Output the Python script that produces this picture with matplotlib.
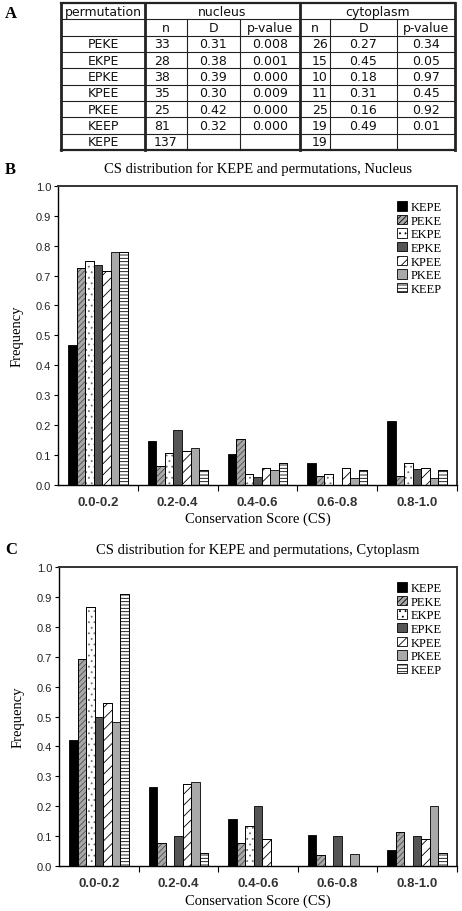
import numpy as np
import matplotlib
matplotlib.use("Agg")
import matplotlib.pyplot as plt
from matplotlib.patches import Patch

# data
perms = ["KEPE", "PEKE", "EKPE", "EPKE", "KPEE", "PKEE", "KEEP"]
bins = ["0.0-0.2", "0.2-0.4", "0.4-0.6", "0.6-0.8", "0.8-1.0"]

nucleus = {
  "KEPE": [0.467, 0.146, 0.102, 0.073, 0.212],
  "PEKE": [0.727, 0.061, 0.152, 0.030, 0.030],
  "EKPE": [0.750, 0.107, 0.036, 0.036, 0.071],
  "EPKE": [0.737, 0.184, 0.026, 0.000, 0.053],
  "KPEE": [0.714, 0.114, 0.057, 0.057, 0.057],
  "PKEE": [0.780, 0.122, 0.049, 0.024, 0.024],
  "KEEP": [0.778, 0.049, 0.074, 0.049, 0.049],
}
cytoplasm = {
  "KEPE": [0.421, 0.263, 0.158, 0.105, 0.053],
  "PEKE": [0.692, 0.077, 0.077, 0.038, 0.115],
  "EKPE": [0.867, 0.000, 0.133, 0.000, 0.000],
  "EPKE": [0.500, 0.100, 0.200, 0.100, 0.100],
  "KPEE": [0.545, 0.273, 0.091, 0.000, 0.091],
  "PKEE": [0.480, 0.280, 0.000, 0.040, 0.200],
  "KEEP": [0.909, 0.045, 0.000, 0.000, 0.045],
}

# table (panel A)
tbl_perm = ["PEKE", "EKPE", "EPKE", "KPEE", "PKEE", "KEEP", "KEPE"]
tbl_nuc_n = ["33", "28", "38", "35", "25", "81", "137"]
tbl_nuc_d = ["0.31", "0.38", "0.39", "0.30", "0.42", "0.32", ""]
tbl_nuc_p = ["0.008", "0.001", "0.000", "0.009", "0.000", "0.000", ""]
tbl_cyt_n = ["26", "15", "10", "11", "25", "19", "19"]
tbl_cyt_d = ["0.27", "0.45", "0.18", "0.31", "0.16", "0.49", ""]
tbl_cyt_p = ["0.34", "0.05", "0.97", "0.45", "0.92", "0.01", ""]

# bar styles: face, hatch, hatch colour
styles = {
  "KEPE": ("black", None, None),
  "PEKE": ("#a8a8a8", "//////", "#505050"),
  "EKPE": ("white", "...", "#707070"),
  "EPKE": ("#555555", None, None),
  "KPEE": ("white", "///", "black"),
  "PKEE": ("#a9a9a9", None, None),
  "KEEP": ("white", "-----", "black"),
}

plt.rcParams["hatch.linewidth"] = 0.6
SERIF = ["Liberation Serif", "DejaVu Serif"]
SANS = ["Liberation Sans", "DejaVu Sans"]

fig = plt.figure(figsize=(4.62, 9.12), dpi=100)


def draw_panel(ax, data, title):
  xs = np.arange(len(bins))
  w = 0.107
  for i, p in enumerate(perms):
    face, hatch, hcol = styles[p]
    off = (i - 3) * w
    ax.bar(xs + off, data[p], width=w, color=face, edgecolor="black", linewidth=0.6, zorder=2)
    if hatch:
      ax.bar(xs + off, data[p], width=w, fill=False, hatch=hatch, edgecolor=hcol, linewidth=0, zorder=3)
      ax.bar(xs + off, data[p], width=w, fill=False, edgecolor="black", linewidth=0.6, zorder=4)
  ax.set_xlim(-0.5, 4.5)
  ax.set_ylim(0, 1.0)
  ax.set_yticks(np.arange(0, 1.01, 0.1))
  ax.set_yticklabels(["%.1f" % v for v in np.arange(0, 1.01, 0.1)], family=SANS, fontsize=8, color="#222222")
  ax.set_xticks(xs)
  ax.set_xticklabels(bins, family=SANS, fontsize=9.5, fontweight="bold", color="#333333")
  ax.tick_params(axis="x", which="major", length=0, pad=8)
  ax.set_xticks(np.arange(0.5, 4.6, 1.0), minor=True)
  ax.tick_params(axis="x", which="minor", length=4, width=0.8, direction="out")
  ax.tick_params(axis="y", length=3, width=0.8, pad=2)
  for s in ["left", "bottom"]:
    ax.spines[s].set_linewidth(1.0)
  for s in ["top", "right"]:
    ax.spines[s].set_linewidth(1.4)
    ax.spines[s].set_color("#333333")
  ax.set_ylabel("Frequency", family=SERIF, fontsize=10.5, labelpad=9)
  ax.set_xlabel("Conservation Score (CS)", family=SERIF, fontsize=10.5, labelpad=3)
  ax.set_title(title, family=SERIF, fontsize=10.5, pad=10)
  handles = []
  for p in perms:
    face, hatch, hcol = styles[p]
    handles.append(Patch(facecolor=face, edgecolor="black", hatch=hatch, linewidth=0.6, label=p))
  ax.legend(handles=handles, loc="upper right", frameon=False, prop={"family": SERIF, "size": 9},
            handlelength=0.8, handleheight=0.8, handletextpad=0.3, labelspacing=0.12,
            borderaxespad=0.8)


axB = fig.add_axes([58 / 462, 1 - 485.7 / 912, 399 / 462, 298.7 / 912])
draw_panel(axB, nucleus, "CS distribution for KEPE and permutations, Nucleus")
axC = fig.add_axes([59 / 462, 1 - 867 / 912, 398 / 462, 299 / 912])
draw_panel(axC, cytoplasm, "CS distribution for KEPE and permutations, Cytoplasm")

# panel letters
fig.text(5 / 462, 1 - 14 / 912, "A", family=SERIF, fontsize=12, fontweight="bold", va="center")
fig.text(5 / 462, 1 - 170 / 912, "B", family=SERIF, fontsize=12, fontweight="bold", va="center")
fig.text(5 / 462, 1 - 550 / 912, "C", family=SERIF, fontsize=12, fontweight="bold", va="center")

# table drawn in pixel coordinates
axT = fig.add_axes([0, 0, 1, 1])
axT.set_xlim(0, 462)
axT.set_ylim(912, 0)
axT.axis("off")
col_x = [61, 145, 187, 240, 300, 330, 397, 455]
row_y = np.linspace(4, 151, 10)
thick = {61, 145, 300, 455}
for cx in col_x:
  if cx in thick:
    axT.plot([cx, cx], [row_y[0], row_y[-1]], color="#222222", lw=2.0)
  else:
    axT.plot([cx, cx], [row_y[1], row_y[-1]], color="#222222", lw=0.8)
for k, ry in enumerate(row_y):
  lw = 1.6 if k in (0, len(row_y) - 1) else 0.8
  axT.plot([col_x[0], col_x[-1]], [ry, ry], color="#222222", lw=lw)

tf = dict(family=["DejaVu Sans"], fontsize=9, ha="center", va="center", color="#111111")
mid = lambda a, b: (a + b) / 2
axT.text(mid(col_x[0], col_x[1]), mid(row_y[0], row_y[1]), "permutation", **tf)
axT.text(mid(col_x[1], col_x[4]), mid(row_y[0], row_y[1]), "nucleus", **tf)
axT.text(mid(col_x[4], col_x[7]), mid(row_y[0], row_y[1]), "cytoplasm", **tf)
for j, h in enumerate(["n", "D", "p-value", "n", "D", "p-value"]):
  axT.text(mid(col_x[j + 1], col_x[j + 2]), mid(row_y[1], row_y[2]), h, **tf)
cols = [tbl_perm, tbl_nuc_n, tbl_nuc_d, tbl_nuc_p, tbl_cyt_n, tbl_cyt_d, tbl_cyt_p]
for j, col in enumerate(cols):
  for i, val in enumerate(col):
    yy = mid(row_y[i + 2], row_y[i + 3])
    if j in (1, 4):
      axT.text(col_x[j] + (9 if j == 1 else 12), yy, val, **{**tf, "ha": "left"})
    else:
      axT.text(mid(col_x[j], col_x[j + 1]), yy, val, **tf)

fig.savefig("out.png", dpi=100)
